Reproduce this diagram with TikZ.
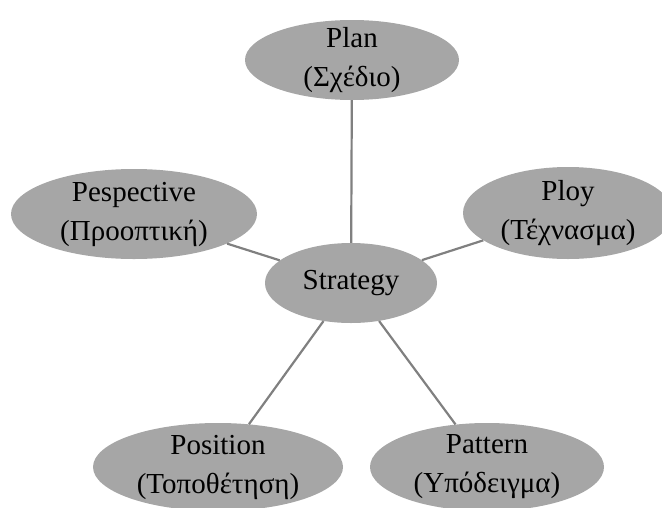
\documentclass[tikz,border=0pt]{standalone}
\usepackage{fontspec}
\setmainfont{Liberation Serif}
\usetikzlibrary{shapes.geometric}
\definecolor{bubblec}{HTML}{A6A6A6}
\definecolor{linkc}{HTML}{808080}
\begin{document}
\begin{tikzpicture}[x=1pt,y=-1pt,
  bubble/.style={ellipse, fill=bubblec, draw=none, inner sep=0pt},
  lbl/.style={align=center, font=\fontsize{29}{39}\selectfont, inner sep=0pt, text=black},
  linkline/.style={draw=linkc, line width=2.2pt}]
\useasboundingbox (0,0) rectangle (662,507);
\clip (0,0) rectangle (662,507);
\node[bubble, minimum width=214pt, minimum height=80pt] (plan) at (352,60) {};
\node[bubble, minimum width=172pt, minimum height=80pt] (strat) at (351,283) {};
\node[bubble, minimum width=246pt, minimum height=90pt] (persp) at (134,214) {};
\node[bubble, minimum width=210pt, minimum height=92pt] (ploy) at (568,213) {};
\node[bubble, minimum width=250pt, minimum height=88pt] (posit) at (218,467) {};
\node[bubble, minimum width=234pt, minimum height=88pt] (patt) at (487,467) {};
\draw[linkline] (plan) -- (strat);
\draw[linkline] (persp) -- (strat);
\draw[linkline] (ploy) -- (strat);
\draw[linkline] (posit) -- (strat);
\draw[linkline] (patt) -- (strat);
\node[lbl] (planT) at (plan) {Plan\\(Σχέδιο)};
\node[lbl] (stratT) at (strat) {Strategy};
\node[lbl] (perspT) at (persp) {Pespective\\(Προοπτική)};
\node[lbl] (ployT) at (ploy) {Ploy\\(Τέχνασμα)};
\node[lbl] (positT) at (posit) {Position\\(Τοποθέτηση)};
\node[lbl] (pattT) at (patt) {Pattern\\(Υπόδειγμα)};
\end{tikzpicture}
\end{document}
